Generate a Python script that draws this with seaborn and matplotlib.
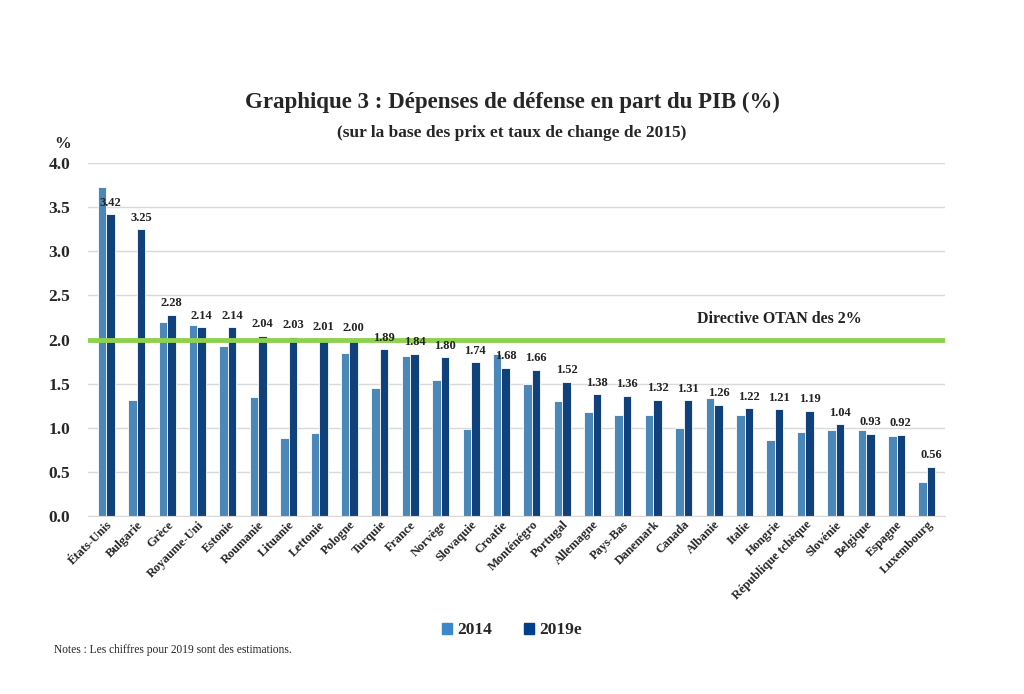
import pandas as pd
import matplotlib.pyplot as plt
import seaborn as sns

# --- DONNEES ---
pays = ['États-Unis', 'Bulgarie', 'Grèce', 'Royaume-Uni', 'Estonie', 'Roumanie',
        'Lituanie', 'Lettonie', 'Pologne', 'Turquie', 'France', 'Norvège',
        'Slovaquie', 'Croatie', 'Monténégro', 'Portugal', 'Allemagne', 'Pays-Bas',
        'Danemark', 'Canada', 'Albanie', 'Italie', 'Hongrie', 'République tchèque',
        'Slovénie', 'Belgique', 'Espagne', 'Luxembourg']
val_2014 = [3.73, 1.31, 2.20, 2.16, 1.93, 1.35, 0.88, 0.94, 1.85, 1.45, 1.81, 1.54,
            0.99, 1.84, 1.50, 1.30, 1.18, 1.15, 1.14, 1.00, 1.34, 1.14, 0.86, 0.95,
            0.97, 0.97, 0.91, 0.38]
val_2019 = [3.42, 3.25, 2.28, 2.14, 2.14, 2.04, 2.03, 2.01, 2.00, 1.89, 1.84, 1.80,
            1.74, 1.68, 1.66, 1.52, 1.38, 1.36, 1.32, 1.31, 1.26, 1.22, 1.21, 1.19,
            1.04, 0.93, 0.92, 0.56]
annees = ['2014', '2019e']
y_ticks = [0.0, 0.5, 1.0, 1.5, 2.0, 2.5, 3.0, 3.5, 4.0]
seuil_otan = 2.0

df = pd.DataFrame({
    'Pays': pays * 2,
    'Année': [annees[0]] * len(pays) + [annees[1]] * len(pays),
    'Valeur': val_2014 + val_2019,
})

sns.set_style("white")
plt.rcParams['font.family'] = ['Liberation Serif', 'DejaVu Serif']

colores = {'2014': '#3A89CB', '2019e': '#003F8C'}

fig = plt.figure(figsize=(10.24, 6.94), dpi=100)
ax = fig.add_axes([0.086, 0.2565, 0.837, 0.5085])

sns.barplot(data=df, x='Pays', y='Valeur', hue='Année', palette=colores,
            width=0.56, edgecolor='white', linewidth=0.6, ax=ax, legend=False)

ax.set_ylim(0, 4.0)
ax.set_xlim(-0.6, len(pays) - 0.4)
ax.set_yticks(y_ticks)
ax.set_yticklabels([f'{v:.1f}' for v in y_ticks], fontsize=12.5, fontweight='bold')
ax.yaxis.grid(True, color='#d9d9d9', linewidth=1)
ax.set_axisbelow(True)
for s in ['left', 'right', 'top']:
    ax.spines[s].set_visible(False)
ax.spines['bottom'].set_color('#d9d9d9')
ax.tick_params(axis='y', length=0, pad=13)
ax.tick_params(axis='x', length=0, pad=2)
ax.set_xlabel('')
ax.set_ylabel('')
plt.setp(ax.get_xticklabels(), rotation=45, ha='right', rotation_mode='anchor',
         fontsize=9, fontweight='bold')

# Ligne OTAN
ax.axhline(seuil_otan, color='#8DD14E', linewidth=3.5, zorder=3)
ax.text(0.807, 0.535, 'Directive OTAN des 2%', transform=ax.transAxes,
        ha='center', va='bottom', fontsize=11.5, fontweight='bold', color='#222222')

# Etiquettes 2019
etiq = ax.bar_label(ax.containers[1], labels=[f'{v:.2f}' for v in val_2019],
                    padding=4, fontsize=9, fontweight='bold', color='#222222')
for t in etiq:
    t.set_zorder(5)

# Titres
fig.text(0.50, 0.852, 'Graphique 3 : Dépenses de défense en part du PIB (%)',
         ha='center', va='center', fontsize=16.5, fontweight='bold')
fig.text(0.50, 0.808, '(sur la base des prix et taux de change de 2015)',
         ha='center', va='center', fontsize=12.5, fontweight='bold')
fig.text(0.061, 0.793, '%', ha='center', va='center', fontsize=12, fontweight='bold')

# Légende
handles = [plt.Rectangle((0, 0), 1, 1, color=colores[a]) for a in annees]
fig.legend(handles, annees, loc='center', bbox_to_anchor=(0.50, 0.092), ncol=2,
           frameon=False, prop={'weight': 'bold', 'size': 12.5},
           handlelength=0.6, handleheight=0.6, handletextpad=0.3, columnspacing=1.8)

fig.text(0.053, 0.063, 'Notes : Les chiffres pour 2019 sont des estimations.',
         ha='left', va='center', fontsize=8.3)

fig.savefig('out.png', dpi=100)
